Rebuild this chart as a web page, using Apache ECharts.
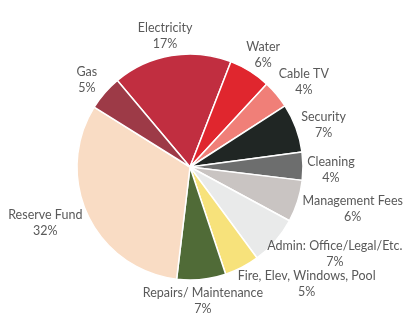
<!DOCTYPE html>
<html>
<head>
<meta charset="utf-8">
<script src="https://cdn.jsdelivr.net/npm/echarts@6/dist/echarts.min.js"></script>
<style>
html,body{margin:0;padding:0;background:#fff;}
#chart{width:415px;height:324px;}
</style>
</head>
<body>
<div id="chart"></div>
<script>
const categories = ['Electricity','Water','Cable TV','Security','Cleaning','Management Fees','Admin: Office/Legal/Etc.','Fire, Elev, Windows, Pool','Repairs/ Maintenance','Reserve Fund','Gas'];
const shares = [17, 6, 4, 7, 4, 6, 7, 5, 7, 32, 5];
const colors = ['#C12E40','#E0262E','#F07F78','#202624','#6D6E6E','#C9C4C2','#E9EAEA','#F7E27B','#506B37','#F9DCC4','#9D3A47'];

// label placement style (distance from centre, angular shift in degrees)
const labelDist = [133, 134, 142, 140, 141, 168, 169, 165, 135, 155, 135];
const labelShift = [1.4, -1.1, -3.3, -2.8, -1.6, 3.2, 10, 17.6, -0.3, -4.6, 0.8];

const START = 130;
const CX = 190, CY = 167, R = 113;
const total = shares.reduce((a, b) => a + b, 0);
const midAngles = [];
let acc = 0;
shares.forEach(v => {
  midAngles.push(START - (acc + v / 2) / total * 360);
  acc += v;
});

const chart = echarts.init(document.getElementById('chart'), null, {renderer: 'canvas'});
chart.setOption({
  animation: false,
  series: [{
    type: 'pie',
    center: [CX, CY],
    radius: [0, R],
    startAngle: START,
    clockwise: true,
    avoidLabelOverlap: false,
    itemStyle: {borderColor: '#ffffff', borderWidth: 1.5},
    label: {
      show: true,
      position: 'outside',
      formatter: p => p.name + '\n' + p.value + '%',
      color: '#595959',
      fontFamily: 'Lato',
      fontSize: 12.5,
      lineHeight: 16
    },
    labelLine: {show: false},
    labelLayout: function (params) {
      const i = params.dataIndex;
      const a = (midAngles[i] + labelShift[i]) * Math.PI / 180;
      return {
        x: CX + labelDist[i] * Math.cos(a),
        y: CY - labelDist[i] * Math.sin(a),
        align: 'center',
        verticalAlign: 'middle'
      };
    },
    data: categories.map((c, i) => ({name: c, value: shares[i], itemStyle: {color: colors[i]}}))
  }]
});
</script>
</body>
</html>
